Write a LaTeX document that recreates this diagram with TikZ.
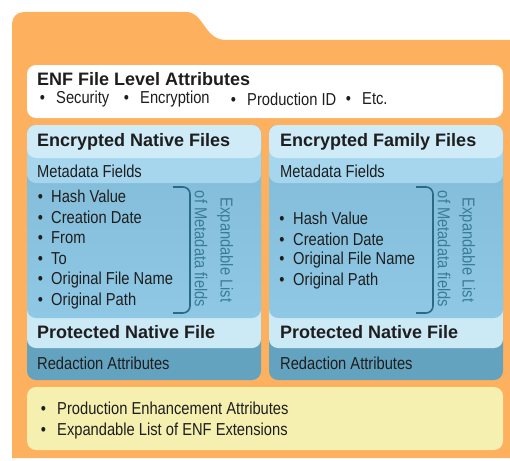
\documentclass[tikz,border=0pt]{standalone}
\usepackage{fontspec}
\setmainfont{Liberation Sans}
\newfontfamily\narrowfont[FakeStretch=0.85]{Liberation Sans}
\definecolor{orangebg}{RGB}{253,176,94}
\definecolor{titleblue}{RGB}{206,235,247}
\definecolor{metablue}{RGB}{165,214,238}
\definecolor{bodyblue}{RGB}{143,200,229}
\definecolor{bodytop}{RGB}{128,186,215}
\definecolor{protblue}{RGB}{204,234,246}
\definecolor{redblue}{RGB}{100,163,191}
\definecolor{yellowbox}{RGB}{245,239,176}
\definecolor{txtcol}{RGB}{30,30,30}
\definecolor{bracketcol}{RGB}{42,106,134}
\definecolor{vertcol}{RGB}{58,124,150}
\newcommand{\mybul}[1]{\makebox[#1pt][l]{•}}
\begin{document}
\begin{tikzpicture}[x=1pt,y=-1pt,
  reg/.style={font=\narrowfont\fontsize{17.3}{19}\selectfont, text=txtcol, inner sep=0pt, anchor=west},
  hdr/.style={font=\bfseries\fontsize{18}{20}\selectfont, text=txtcol, inner sep=0pt, anchor=west},
  vert/.style={font=\narrowfont\fontsize{17.3}{19}\selectfont, text=vertcol, inner sep=0pt, rotate=-90},
  brk/.style={draw=bracketcol, line width=1.6pt, rounded corners=7pt},
  card/.style={rounded corners=9pt}]
\useasboundingbox (0,0) rectangle (510,460);
% folder
\fill[orangebg] (12,458) -- (12,24) .. controls (12,17) and (17,12) .. (24,12) -- (186,12)
  .. controls (204,12) and (204,40) .. (226,40) -- (510,40) -- (510,458) -- cycle;
% top white box
\fill[white, card] (27,65) rectangle (503,118);
\node[hdr] (enf) at (37,79) {ENF File Level Attributes};
\node[reg] (sec) at (39.6,99) {\mybul{16.4}Security};
\node[reg] (enc) at (123.6,99) {\mybul{16.4}Encryption};
\node[reg] (pid) at (230.6,99) {\mybul{16.4}Production ID};
\node[reg] (etc) at (345.6,99) {\mybul{16.4}Etc.};
% left panel
\fill[redblue, card] (27,125) rectangle (261,380);
\fill[protblue, card] (27,125) rectangle (261,348);
\shade[top color=bodytop, bottom color=bodyblue, card] (27,125) rectangle (261,318);
\fill[metablue, card] (27,125) rectangle (261,183);
\fill[titleblue, card] (27,125) rectangle (261,158);
\node[hdr] (lh) at (37,142) {Encrypted Native Files};
\node[reg] (lm) at (37,171) {Metadata Fields};
\node[reg] (l1) at (37.6,196) {\mybul{13.4}Hash Value};
\node[reg] (l2) at (37.6,217) {\mybul{13.4}Creation Date};
\node[reg] (l3) at (37.6,238) {\mybul{13.4}From};
\node[reg] (l4) at (37.6,259) {\mybul{13.4}To};
\node[reg] (l5) at (37.6,280) {\mybul{13.4}Original File Name};
\node[reg] (l6) at (37.6,301) {\mybul{13.4}Original Path};
\draw[brk] (173,187) -- (190,187) -- (190,313) -- (173,313);
\node[vert] (lv1) at (225,250) {Expandable List};
\node[vert] (lv2) at (201,249) {of Metadata fields};
\node[hdr] (lp) at (37,332) {Protected Native File};
\node[reg] (lr) at (37,363) {Redaction Attributes};
% right panel
\fill[redblue, card] (269,125) rectangle (503,380);
\fill[protblue, card] (269,125) rectangle (503,348);
\shade[top color=bodytop, bottom color=bodyblue, card] (269,125) rectangle (503,318);
\fill[metablue, card] (269,125) rectangle (503,183);
\fill[titleblue, card] (269,125) rectangle (503,158);
\node[hdr] (rh) at (280,142) {Encrypted Family Files};
\node[reg] (rm) at (280,171) {Metadata Fields};
\node[reg] (r1) at (279.2,218) {\mybul{13.8}Hash Value};
\node[reg] (r2) at (279.2,239) {\mybul{13.8}Creation Date};
\node[reg] (r3) at (279.2,260) {\mybul{13.8}Original File Name};
\node[reg] (r4) at (279.2,281) {\mybul{13.8}Original Path};
\draw[brk] (416,187) -- (433,187) -- (433,313) -- (416,313);
\node[vert] (rv1) at (467,250) {Expandable List};
\node[vert] (rv2) at (444,249) {of Metadata fields};
\node[hdr] (rp) at (280,332) {Protected Native File};
\node[reg] (rr) at (280,363) {Redaction Attributes};
% bottom yellow box
\fill[yellowbox, card] (27,387) rectangle (503,450);
\node[reg] (b1) at (40.6,408) {\mybul{16.4}Production Enhancement Attributes};
\node[reg] (b2) at (40.6,431) {\mybul{16.4}Expandable List of ENF Extensions};
\end{tikzpicture}
\end{document}
